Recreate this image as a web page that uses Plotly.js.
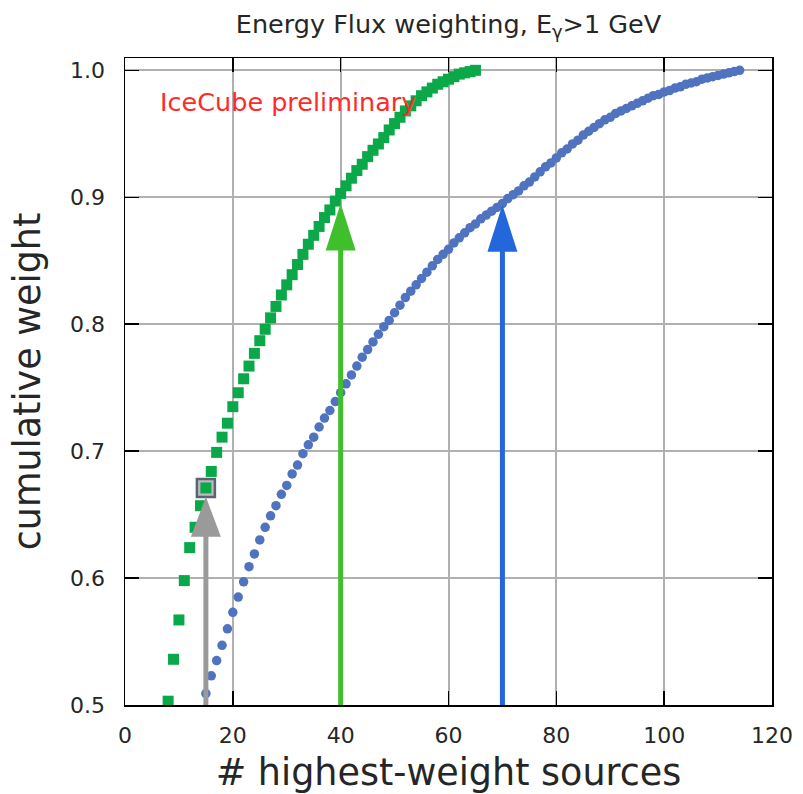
<!DOCTYPE html>
<html>
<head>
<meta charset="utf-8">
<script src="https://cdn.plot.ly/plotly-3.0.1.min.js"></script>
<style>html,body{margin:0;padding:0;background:#fff;}#chart{width:803px;height:794px;}</style>
</head>
<body>
<div id="chart"></div>
<script>
// Energy-flux weighting (green squares)
const greenN = [8,9,10,11,12,13,14,15,16,17,18,19,20,21,22,23,24,25,26,27,28,29,30,31,32,33,34,35,36,37,38,39,40,41,42,43,44,45,46,47,48,49,50,51,52,53,54,55,56,57,58,59,60,61,62,63,64,65];
const greenW = [0.503,0.536,0.567,0.598,0.624,0.640,0.657,0.671,0.684,0.699,0.711,0.722,0.735,
  0.746,0.757,0.767,0.777,0.787,0.796,0.805,0.814,0.823,0.831,0.839,0.847,0.855,0.863,0.870,0.877,0.884,0.890,0.897,0.903,
  0.909,0.915,0.921,0.926,0.932,0.937,0.942,0.947,
  0.953,0.958,0.963,0.968,0.972,0.976,0.980,0.983,0.986,0.989,0.991,0.993,0.995,0.997,0.998,0.999,1.000];

// Second weighting (blue circles)
const blueN = [15,16,17,18,19,20,21,22,23,24,25,26,27,28,29,30,31,32,33,34,35,36,37,38,39,
  40,41,42,43,44,45,46,47,48,49,50,51,52,53,54,55,56,57,58,59,60,61,62,63,64,65,66,67,68,69,70,71,72,73,74,75,76,77,78,79,
  80,81,82,83,84,85,86,87,88,89,90,91,92,93,94,95,96,97,98,99,100,101,102,103,104,105,106,107,108,109,110,111,112,113,114];
const blueW = [0.509,0.523,0.535,0.547,0.560,0.573,0.585,0.597,0.609,0.619,0.630,0.640,0.649,0.657,0.666,0.673,0.682,0.689,0.698,0.705,0.711,0.719,0.726,0.732,0.739,
  0.746,0.753,0.760,0.767,0.774,0.780,0.786,0.792,0.798,0.803,0.809,0.815,0.821,0.826,0.831,0.836,0.841,0.846,0.851,0.855,0.859,0.864,0.868,0.872,0.876,0.879,0.883,0.886,0.889,0.892,0.895,0.899,0.902,0.905,0.909,0.912,0.916,0.920,0.924,0.927,
  0.931,0.935,0.938,0.942,0.945,0.949,0.952,0.955,0.958,0.961,0.963,0.966,0.968,0.970,0.972,0.974,0.976,0.978,0.980,0.981,0.983,0.984,0.986,0.987,0.989,0.990,0.991,0.993,0.994,0.995,0.996,0.997,0.998,0.999,1.000];

// Highlighted source count and arrows
const highlightN = [15];
const arrowX = [15, 40, 70];
const arrowTip = [0.664, 0.895, 0.894];
const arrowColors = ['#9a9a9a', '#3fbf2b', '#2267dc'];

const xTicks = [0, 20, 40, 60, 80, 100, 120];
const yTicks = [0.5, 0.6, 0.7, 0.8, 0.9, 1.0];

const highlightW = highlightN.map(n => greenW[greenN.indexOf(n)]);

const FONT = 'DejaVu Sans, sans-serif';

const traces = [
  {x: blueN, y: blueW, type: 'scatter', mode: 'markers',
   marker: {symbol: 'circle', size: 9.5, color: '#5073bf'}, hoverinfo: 'skip'},
  {x: highlightN, y: highlightW, type: 'scatter', mode: 'markers',
   marker: {symbol: 'square', size: 18, color: 'rgba(140,140,150,0.6)', line: {color: '#5c6270', width: 2.5}}, hoverinfo: 'skip'},
  {x: greenN, y: greenW, type: 'scatter', mode: 'markers',
   marker: {symbol: 'square', size: 11, color: '#0ba84a'}, hoverinfo: 'skip'}
];

const shapes = [];
arrowX.forEach((ax, i) => {
  shapes.push({type: 'line', xref: 'x', yref: 'y', x0: ax, x1: ax, y0: 0.49, y1: arrowTip[i] - 0.02,
    line: {color: arrowColors[i], width: 5}, layer: 'above'});
  const hl = i === 0 ? 40 : 47;
  shapes.push({type: 'path', xref: 'x', yref: 'y', xsizemode: 'pixel', ysizemode: 'pixel',
    xanchor: ax, yanchor: arrowTip[i],
    path: 'M-15,-' + hl + ' L15,-' + hl + ' L0,0 Z',
    fillcolor: arrowColors[i], line: {width: 0}, layer: 'above'});
});

const axisCommon = {
  ticks: 'inside', ticklen: 14, tickwidth: 1.5, tickcolor: '#000',
  showline: true, linecolor: '#000', linewidth: 1.5, mirror: 'ticks',
  showgrid: true, gridcolor: '#b0b0b0', gridwidth: 2, zeroline: false,
  tickfont: {family: FONT, size: 22, color: '#262626'},
  automargin: false
};

const layout = {
  width: 803, height: 794,
  margin: {l: 125, r: 31, t: 58, b: 89},
  paper_bgcolor: '#fff', plot_bgcolor: '#fff',
  showlegend: false,
  title: {text: 'Energy Flux weighting, E<sub>γ</sub>&gt;1 GeV', font: {family: FONT, size: 25.5, color: '#262626'},
          x: 0.5, xref: 'paper', y: 0.97, yref: 'container', yanchor: 'middle'},
  xaxis: Object.assign({}, axisCommon, {range: [0, 120], tickvals: xTicks, ticklabelstandoff: 10,
    title: {text: '# highest-weight sources', font: {family: FONT, size: 36.5, color: '#262626'}, standoff: 12}}),
  yaxis: Object.assign({}, axisCommon, {range: [0.5, 1.0097], tickvals: yTicks, tickformat: '.1f', ticklabelstandoff: 14,
    title: {text: 'cumulative weight', font: {family: FONT, size: 36.5, color: '#262626'}, standoff: 18}}),
  shapes: shapes,
  annotations: [
    {x: 6.1, y: 0.975, xref: 'x', yref: 'y', xanchor: 'left', yanchor: 'middle', showarrow: false,
     text: 'IceCube preliminary', font: {family: FONT, size: 25.5, color: '#ff2a2a'}}
  ]
};

Plotly.newPlot('chart', traces, layout, {displayModeBar: false, staticPlot: true});
</script>
</body>
</html>
